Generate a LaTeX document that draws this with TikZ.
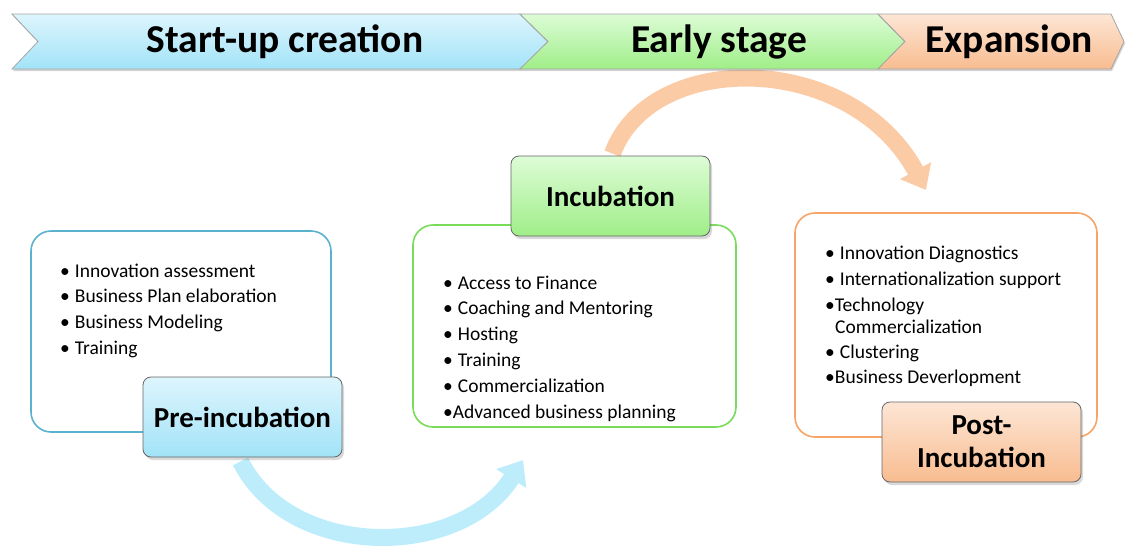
\documentclass[tikz,border=0pt]{standalone}
\usepackage{fontspec}
\setmainfont{Carlito}
\usetikzlibrary{shadows,arrows.meta,calc,backgrounds}
\definecolor{bTop}{HTML}{DDF5FD}
\definecolor{bBot}{HTML}{A2E3F8}
\definecolor{gTop}{HTML}{DDFCD6}
\definecolor{gBot}{HTML}{9FEE88}
\definecolor{oTop}{HTML}{FDE6D5}
\definecolor{oBot}{HTML}{F8BC90}
\definecolor{bLine}{HTML}{5AB2CE}
\definecolor{gLine}{HTML}{78DC5A}
\definecolor{oLine}{HTML}{F7A466}
\definecolor{bArrow}{HTML}{BDEDFA}
\definecolor{oArrow}{HTML}{FBCBA6}
\newcommand{\bul}{•\kern5pt}
\tikzset{
  banner/.style={draw=gray!70, line width=0.8pt, drop shadow={shadow xshift=1pt,shadow yshift=-2pt,opacity=0.35}},
  bantext/.style={font=\fontsize{39.5}{42}\selectfont\bfseries, inner sep=0pt},
  listbox/.style={draw, line width=1.6pt, rounded corners=20pt, fill=white},
  headbox/.style={draw=gray!80!black, line width=0.8pt, rounded corners=8pt, minimum width=199pt, minimum height=80pt, align=center, inner sep=0pt,
     font=\fontsize{29}{33}\selectfont\bfseries, drop shadow={shadow xshift=2pt,shadow yshift=-3pt,opacity=0.3}},
  item/.style={font=\fontsize{19.5}{22}\selectfont, anchor=base west, inner sep=0pt},
  bigarrow/.style={line width=17pt, -{Triangle[width=34pt,length=22pt]}}
}
\begin{document}
\begin{tikzpicture}[x=1pt,y=-1pt]
\useasboundingbox (0,0) rectangle (1126,549);
% banner
\path[banner, top color=bTop, bottom color=bBot] (12,14) -- (520,14) -- (548,41.5) -- (520,69) -- (12,69) -- (38,41.5) -- cycle;
\path[banner, top color=gTop, bottom color=gBot] (520,14) -- (878,14) -- (905,41.5) -- (878,69) -- (520,69) -- (548,41.5) -- cycle;
\path[banner, top color=oTop, bottom color=oBot] (878,14) -- (1111,14) -- (1124,41.5) -- (1111,69) -- (878,69) -- (905,41.5) -- cycle;
\node[bantext] (b1) at (285,41.5) {Start-up creation};
\node[bantext] (b2) at (719,41.5) {Early stage};
\node[bantext] (b3) at (1009,41.5) {Expansion};
% content boxes
\node[listbox, draw=bLine, minimum width=300pt, minimum height=201pt] (prebox) at (181,331.5) {};
\node[listbox, draw=gLine, minimum width=323pt, minimum height=202pt] (incbox) at (574.5,326) {};
\node[listbox, draw=oLine, minimum width=302pt, minimum height=224pt] (postbox) at (946,325) {};
% arrow end points
\coordinate (blueEnd) at (523,460);
\coordinate (orangeEnd) at (926,190);
% headings
\node[headbox, top color=bTop, bottom color=bBot] (pre) at (242.5,417) {Pre-incubation};
\node[headbox, top color=gTop, bottom color=gBot] (inc) at (610.5,196) {Incubation};
\node[headbox, top color=oTop, bottom color=oBot] (post) at (981.5,442) {Post-\\Incubation};
\begin{scope}[on background layer]
\draw[bigarrow, bArrow] ($(pre.south)+(-2,4)$) .. controls (290,560) and (460,560) .. (blueEnd);
\draw[bigarrow, oArrow] ($(inc.north)+(2,-2)$) .. controls (650,50) and (850,50) .. (orangeEnd);
\end{scope}
% lists
\node[item] (p1) at (60,277) {\bul Innovation assessment};
\node[item] (p2) at (60,302) {\bul Business Plan elaboration};
\node[item] (p3) at (60,328) {\bul Business Modeling};
\node[item] (p4) at (60,354) {\bul Training};
\node[item] (i1) at (443,289) {\bul Access to Finance};
\node[item] (i2) at (443,314) {\bul Coaching and Mentoring};
\node[item] (i3) at (443,340) {\bul Hosting};
\node[item] (i4) at (443,366) {\bul Training};
\node[item] (i5) at (443,392) {\bul Commercialization};
\node[item] (i6) at (443,418) {•Advanced business planning};
\node[item] (q1) at (825,259) {\bul Innovation Diagnostics};
\node[item] (q2) at (825,285) {\bul Internationalization support};
\node[item] (q3) at (825,311) {•Technology};
\node[item] (q4) at (835,333) {Commercialization};
\node[item] (q5) at (825,358) {\bul Clustering};
\node[item] (q6) at (825,383) {•Business Deverlopment};
\end{tikzpicture}
\end{document}
